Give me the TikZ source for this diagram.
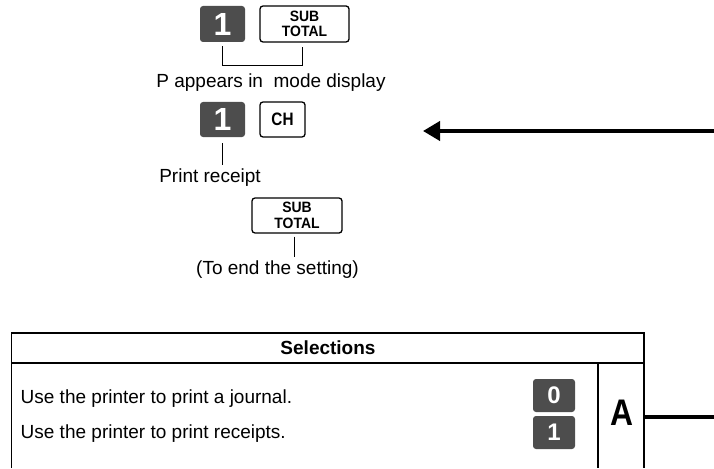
\documentclass[tikz,border=0pt]{standalone}
\usepackage{fontspec}
\setmainfont{Liberation Sans}
\usetikzlibrary{arrows.meta}
\definecolor{keygray}{RGB}{77,77,77}
\begin{document}
\begin{tikzpicture}[x=1pt,y=-1pt,
  numkey/.style={fill=keygray, rounded corners=3pt, inner sep=0pt, text=white,
    font=\bfseries\fontsize{32}{32}\selectfont, minimum width=45pt, minimum height=36pt},
  smallkey/.style={numkey, font=\bfseries\fontsize{24}{24}\selectfont, minimum width=42pt, minimum height=33pt},
  fnkey/.style={draw, line width=1.3pt, rounded corners=3pt, inner sep=0pt,
    font=\bfseries\fontsize{15}{15.5}\selectfont, align=center},
  lbl/.style={font=\fontsize{19}{20}\selectfont, inner sep=0pt, text height=13pt, text depth=4pt},
  thinline/.style={line width=1pt},
  frame/.style={line width=1.7pt},
]
\useasboundingbox (0,0) rectangle (714,468);
% first row
\node[numkey] (k1) at (222.5,24) {1};
\node[fnkey, minimum width=89pt, minimum height=36pt] (st1) at (304.5,24) {\scalebox{0.93}[1]{SUB}\\\scalebox{0.93}[1]{TOTAL}};
\coordinate (b1) at (0,66);
\node[lbl] (t1) at (271,83) {P appears in\ \ mode display};
\draw[thinline] ([yshift=-4pt]k1.south) -- (k1.south |- b1) -| ([xshift=-2.5pt,yshift=-4pt]st1.south);
% second row
\node[numkey, minimum height=35pt] (k2) at (222.5,119.5) {1};
\node[fnkey, minimum width=45pt, minimum height=35pt, font=\bfseries\fontsize{18}{18}\selectfont] (ch) at (282.5,119.5) {\scalebox{0.85}[1]{CH}};
\node[lbl] (t2) at (210,177.5) {Print receipt};
\draw[thinline] ([yshift=-6pt]k2.south) -- ([yshift=4pt]k2.south |- t2.north);
% third row
\node[fnkey, minimum width=90pt, minimum height=35pt] (st2) at (297,215.5) {\scalebox{0.93}[1]{SUB}\\\scalebox{0.93}[1]{TOTAL}};
\node[lbl] (t3) at (277.5,270) {(To end the setting)};
\draw[thinline] ([xshift=-3pt,yshift=-3pt]st2.south) -- ([xshift=-3pt,yshift=4pt]st2.south |- t3.north);
% arrow
\coordinate (arS) at (714,131);
\coordinate (arE) at (423,131);
\draw[line width=4pt, -{Triangle[length=17pt,width=19pt]}] (arS) -- (arE);
% table
\draw[frame] (11.5,468) -- (11.5,333) -- (644,333) -- (644,468);
\draw[frame] (11.5,363) -- (644,363);
\draw[frame] (598,363) -- (598,468);
\node[font=\bfseries\fontsize{19}{20}\selectfont, inner sep=0pt] (sel) at (328,348) {Selections};
\node[lbl, anchor=west] (r1) at (20.5,398.5) {Use the printer to print a journal.};
\node[lbl, anchor=west] (r2) at (20.5,434) {Use the printer to print receipts.};
\node[smallkey] (k0) at (554,395.5) {0};
\node[smallkey] (kk1) at (554,432.5) {1};
\node[font=\bfseries\fontsize{37}{37}\selectfont, inner sep=0pt] (A) at (621.5,413) {\scalebox{0.86}[1]{A}};
\coordinate (aS) at (645,417);
\coordinate (aE) at (714,417);
\draw[line width=4pt] (aS) -- (aE);
\end{tikzpicture}
\end{document}
